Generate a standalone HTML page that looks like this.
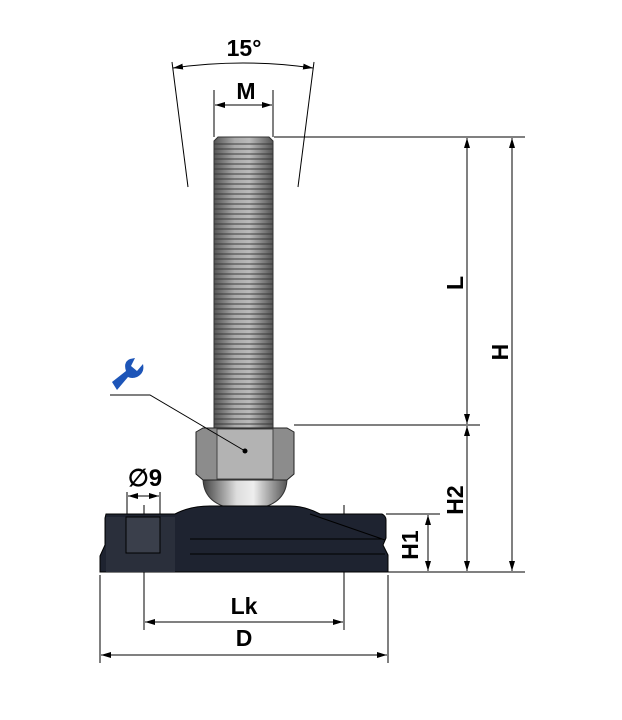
<!DOCTYPE html>
<html><head><meta charset="utf-8"><style>body{margin:0;background:#fff}svg{display:block}</style></head><body>
<svg width="622" height="720" viewBox="0 0 622 720" xmlns="http://www.w3.org/2000/svg" font-family="Liberation Sans, sans-serif" font-weight="bold">
<defs>
<linearGradient id="bolt" x1="0" x2="1"><stop offset="0" stop-color="#555"/><stop offset="0.35" stop-color="#aaa"/><stop offset="0.6" stop-color="#bbb"/><stop offset="1" stop-color="#555"/></linearGradient>
<pattern id="thr" width="6" height="5" patternUnits="userSpaceOnUse"><rect width="6" height="5" fill="none"/><rect y="3" width="6" height="2" fill="#333" opacity="0.45"/></pattern>
<linearGradient id="ball" x1="0" x2="1"><stop offset="0" stop-color="#444"/><stop offset="0.4" stop-color="#ddd"/><stop offset="0.6" stop-color="#eee"/><stop offset="1" stop-color="#555"/></linearGradient>
<marker id="a" viewBox="0 0 10 6" refX="10" refY="3" markerWidth="10" markerHeight="6" orient="auto-start-reverse"><path d="M0,0L10,3L0,6z" fill="#000"/></marker>
</defs>
<g stroke="#000" stroke-width="1" fill="none">
<line x1="172" y1="62" x2="188" y2="187"/><line x1="314" y1="62" x2="298" y2="187"/>
<path d="M173,68 Q243,58 313,68" marker-start="url(#a)" marker-end="url(#a)"/>
<line x1="214" y1="90" x2="214" y2="137"/><line x1="273" y1="90" x2="273" y2="137"/>
<line x1="215" y1="105" x2="272" y2="105" marker-start="url(#a)" marker-end="url(#a)"/>
<line x1="274" y1="137" x2="525" y2="137"/>
<line x1="294" y1="425" x2="480" y2="425"/>
<line x1="386" y1="514" x2="440" y2="514"/>
<line x1="388" y1="572" x2="525" y2="572"/>
<line x1="512" y1="138" x2="512" y2="571" marker-start="url(#a)" marker-end="url(#a)"/>
<line x1="467" y1="138" x2="467" y2="424" marker-start="url(#a)" marker-end="url(#a)"/>
<line x1="467" y1="426" x2="467" y2="571" marker-start="url(#a)" marker-end="url(#a)"/>
<line x1="428" y1="515" x2="428" y2="571" marker-start="url(#a)" marker-end="url(#a)"/>
<line x1="100" y1="575" x2="100" y2="663"/><line x1="388" y1="575" x2="388" y2="663"/>
<line x1="144" y1="505" x2="144" y2="630"/><line x1="344" y1="505" x2="344" y2="630"/>
<line x1="145" y1="622" x2="343" y2="622" marker-start="url(#a)" marker-end="url(#a)"/>
<line x1="101" y1="655" x2="387" y2="655" marker-start="url(#a)" marker-end="url(#a)"/>
<line x1="127" y1="492" x2="127" y2="520"/><line x1="160" y1="492" x2="160" y2="520"/>
<line x1="128" y1="496" x2="159" y2="496" marker-start="url(#a)" marker-end="url(#a)"/>
</g>
<path d="M214,141 L218,137 L269,137 L273,141 L273,430 L214,430Z" fill="url(#bolt)" stroke="#333"/>
<rect x="214" y="141" width="59" height="289" fill="url(#thr)"/>
<path d="M203,478 Q203,508 245,510 Q287,508 287,478Z" fill="url(#ball)" stroke="#333"/>
<path d="M196,432 L203,428 L287,428 L294,432 L294,474 L287,480 L203,480 L196,474Z" fill="#8c8c8c" stroke="#222"/>
<rect x="217" y="429" width="56" height="50" fill="#b3b3b3" stroke="#444"/>
<path d="M106,514 L175,514 Q190,506 210,506 L290,506 Q305,506 320,514 L382,514 Q386,516 386,520 L386,538 L383,545 L388,555 L388,572 L100,572 L100,556 L105,545 L105,518Z" fill="#1e2330" stroke="#000"/>
<path d="M106,517 L175,517 L175,572 L106,572Z" fill="#2a2f3b"/>
<rect x="126" y="517" width="34" height="36" fill="#3a3f4b" stroke="#000"/>
<line x1="190" y1="539" x2="382" y2="539" stroke="#000"/>
<line x1="190" y1="554" x2="385" y2="554" stroke="#000"/>
<path d="M310,514 L385,540" stroke="#000" fill="none"/>
<path d="M110,395 L150,395 L245,451" stroke="#000" fill="none"/>
<circle cx="245" cy="451" r="2.5" fill="#000"/>
<path d="M112,382 L126,371 Q123,362 130,359 L135,358 L131,366 L137,371 L143,364 Q145,373 137,377 Q132,379 128,377 L117,390Z" fill="#1d55b8"/>
<g font-size="23" fill="#000" text-anchor="middle">
<text x="244" y="56">15°</text>
<text x="246" y="99">M</text>
<text x="145" y="486" font-size="24">∅9</text>
<text x="244" y="614">Lk</text>
<text x="244" y="646">D</text>
<text transform="translate(463,283) rotate(-90)">L</text>
<text transform="translate(508,352) rotate(-90)">H</text>
<text transform="translate(463,500) rotate(-90)">H2</text>
<text transform="translate(418,545) rotate(-90)">H1</text>
</g>
</svg>
</body></html>
